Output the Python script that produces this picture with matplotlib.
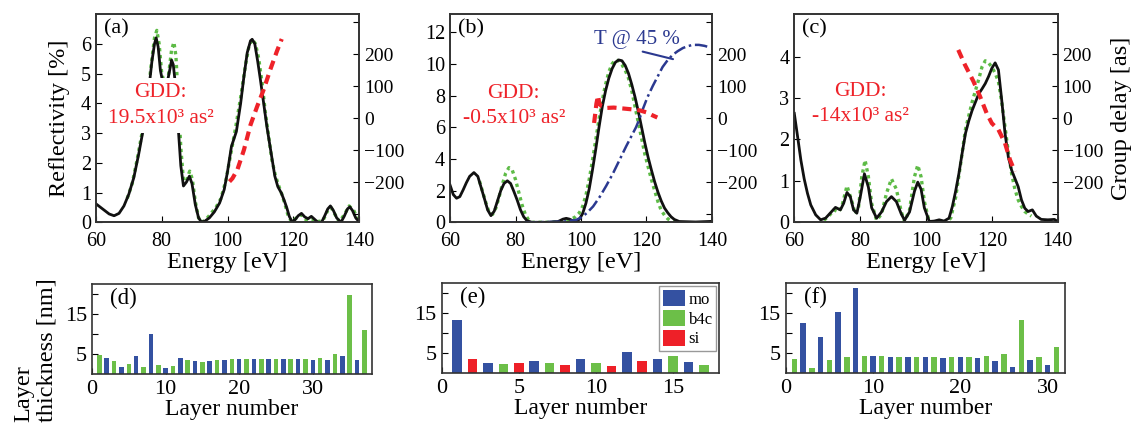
import matplotlib
matplotlib.use("Agg")
import matplotlib.pyplot as plt
from matplotlib.patches import Patch

plt.rcParams['font.family'] = ['Liberation Serif', 'DejaVu Serif']

# colours
BLACK = '#111111'
GREEN = '#5dbb46'
RED = '#ee2229'
NAVY = '#2b3990'
MO = '#3451a1'
B4C = '#6cbf48'
SI = '#ee2028'

# ---------------- data: panel (a) ----------------
e_a_calc = [60, 62, 64, 65.5, 67, 68.5, 70, 71.5, 73, 74.5, 76, 77, 77.8, 78.3, 78.9, 79.6, 80.5,
            81.5, 82.4, 83.0, 83.5, 84.2, 85.0, 85.8, 86.6, 87.5, 88.4, 89.2, 90.2, 91.2, 92.0,
            93.0, 94.5, 96.0, 97.6, 99.0, 100.0, 101.2, 102.7, 104.0, 105.0, 106.0, 107.0, 107.5,
            108.3, 109.2, 110.0, 111.0, 112.0, 112.8, 113.6, 114.4, 115.3, 116.4, 117.2, 118.0,
            118.8, 119.6, 120.5, 121.5, 122.5, 123.5, 124.5, 125.5, 126.5, 127.5, 128.6, 129.5,
            130.5, 131.3, 132.2, 133.2, 134.5, 135.5, 136.5, 137.2, 138.0, 139.0, 140.0]
r_a_calc = [0.62, 0.45, 0.28, 0.22, 0.30, 0.55, 0.95, 1.5, 2.3, 3.2, 4.4, 5.4, 6.0, 6.2, 5.9, 5.1, 4.6,
            4.6, 5.1, 5.45, 5.3, 4.6, 3.2, 1.9, 1.22, 1.35, 1.55, 1.3, 0.6, 0.15, 0.02,
            0.03, 0.15, 0.35, 0.65, 1.1, 1.7, 2.55, 3.05, 4.0, 4.9, 5.7, 6.1, 6.15,
            6.0, 5.4, 4.8, 4.0, 3.2, 2.65, 2.1, 1.55, 1.2, 0.98, 0.75, 0.5,
            0.2, 0.02, 0.08, 0.22, 0.3, 0.18, 0.12, 0.2, 0.1, 0.0, 0.0, 0.2,
            0.45, 0.55, 0.4, 0.15, 0.0, 0.2, 0.45, 0.52, 0.4, 0.15, 0.02]
e_a_target = [69.5, 71, 72.5, 74, 75.5, 76.8, 77.8, 78.5, 79.2, 80.0, 81.0, 82.0, 83.0, 83.7, 84.3,
              85.0, 85.8, 86.6, 87.5, 88.5, 89.3, 90.2, 91.2, 92.2, 93.5, 95, 96.5, 98, 99.5, 101,
              102.5, 104, 105.5, 106.5, 107.5, 108.5, 109.5, 110.5, 111.5, 112.5, 113.5, 114.5,
              115.5, 116.5, 117.5, 118.5, 119.5, 121, 122.5, 124, 125.5, 127, 129, 130.5, 131.5,
              132.5, 134, 135.5, 137, 138.5, 139.5]
r_a_target = [0.8, 1.3, 2.1, 3.0, 4.0, 5.3, 6.2, 6.45, 6.0, 5.0, 4.6, 4.9, 5.8, 6.05, 5.6,
              4.2, 2.5, 1.4, 1.4, 1.72, 1.45, 0.7, 0.15, 0.0, 0.1, 0.3, 0.5, 0.8, 1.4, 2.3,
              3.2, 4.2, 5.3, 5.9, 6.15, 6.0, 5.5, 4.7, 3.7, 2.9, 2.1, 1.6,
              1.25, 0.95, 0.6, 0.2, 0.02, 0.15, 0.25, 0.07, 0.12, 0.02, 0.05, 0.4, 0.5,
              0.3, 0.02, 0.25, 0.55, 0.38, 0.1]
e_a_gd = [100.6, 101.5, 103, 105, 107, 109, 111, 113, 115, 116.5]
gd_a = [-198, -188, -161, -99, -21, 36, 89, 151, 208, 247]

# ---------------- data: panel (b) ----------------
e_b_calc = [60, 61, 62, 63, 64, 65, 66, 67.3, 68.5, 69.5, 70.5, 71.5, 72.5, 73.5, 74.5, 75.5, 76.5,
            77.5, 78.5, 79.5, 80.5, 81.5, 82.5, 83.5, 85, 90, 93, 94.5, 95.5, 96.5, 97.5, 98.5,
            99.5, 100.5, 101.5, 102.5, 103.5, 104.5, 105.5, 106.5, 107.5, 108.5, 109.5, 110.5,
            111.5, 112.5, 113.5, 114.5, 115.5, 116.5, 117.5, 118.5, 119.5, 120.5, 121.5, 122.5,
            123.5, 124.5, 125.5, 126.5, 127.5, 128.5, 130, 135, 140]
r_b_calc = [2.36, 1.75, 1.52, 1.62, 2.04, 2.5, 2.9, 3.14, 2.9, 2.2, 1.5, 0.78, 0.42, 0.7, 1.35, 2.0, 2.45,
            2.62, 2.45, 1.95, 1.41, 0.8, 0.35, 0.1, 0.0, 0.0, 0.05, 0.2, 0.25, 0.2, 0.1, 0.02,
            0.2, 0.55, 1.2, 2.1, 3.3, 4.6, 6.0, 7.3, 8.3, 9.1, 9.7, 10.1,
            10.25, 10.2, 9.9, 9.4, 8.7, 7.9, 7.0, 6.0, 5.0, 4.1, 3.3, 2.55,
            1.9, 1.35, 0.9, 0.6, 0.35, 0.18, 0.05, 0.02, 0.06]
e_b_target = [69, 70, 71, 72, 73, 74, 75, 76, 77, 78, 79, 80, 81, 82, 83, 84, 85, 90, 95, 98, 99.5,
              100.5, 101.5, 102.5, 103.5, 104.5, 105.5, 106.5, 107.5, 108.5, 109.5, 110.5, 111.5,
              112.5, 113.5, 114.5, 115.5, 116.5, 117.5, 118.5, 119.5, 120.5, 121.5, 122.5, 123.5,
              124.5, 125.5, 126.5, 127.5, 128.5]
r_b_target = [2.6, 1.9, 1.2, 0.6, 0.5, 0.9, 1.6, 2.4, 3.1, 3.45, 3.3, 2.7, 1.9, 1.1, 0.5, 0.15, 0.0, 0.0,
              0.05, 0.3, 0.6, 1.0, 1.7, 2.7, 3.9, 5.2, 6.5, 7.7, 8.7, 9.5, 10.0, 10.25, 10.2,
              9.95, 9.6, 9.1, 8.3, 7.3, 6.3, 5.3, 4.3, 3.5, 2.7, 2.0, 1.3,
              0.75, 0.45, 0.22, 0.08, 0.0]
e_b_trans = [76, 80, 85, 90, 95, 98.5, 100, 101.7, 103.7, 105.7, 107.7, 109.8, 111.8, 113.8, 115.3,
             116.8, 117.8, 118.8, 120.3, 121.9, 123.4, 124.9, 126.5, 128, 129.5, 131.1, 132.6,
             134.1, 136, 137.7, 139.2]
t_b = [0.0, 0.0, 0.0, 0.02, 0.05, 0.15, 0.3, 0.57, 1.0, 1.6, 2.3, 3.1, 3.95, 4.8, 5.4,
       6.0, 6.5, 7.1, 7.9, 8.6, 9.2, 9.8, 10.25, 10.57, 10.8, 11.0, 11.12,
       11.2, 11.2, 11.14, 11.05]
e_b_gd = [104.0, 104.3, 104.7, 105.2, 105.6, 106.2, 108, 110, 112, 114, 116, 118, 120, 122, 123.3]
gd_b = [-15, 10, 45, 70, 45, 38, 32, 33, 31, 29, 27, 24, 18, 8, 2]

# ---------------- data: panel (c) ----------------
e_c_calc = [60, 61, 62, 63, 64, 65, 66.5, 68, 69.5, 71, 72.5, 74, 75, 76, 77, 78, 79, 80, 81.3, 82.5,
            83.5, 85, 86.5, 88, 89.5, 91, 92.5, 93.5, 95, 96.5, 97.5, 98.5, 99.5, 101, 102.5, 104,
            105.5, 107, 108, 109, 110, 111, 112, 113, 114, 115, 116, 117, 118, 119, 120, 121, 122,
            123, 124, 125, 126, 127, 128, 129, 130, 131, 132.3, 133.5, 135, 137, 139, 140]
r_c_calc = [2.63, 2.07, 1.5, 1.05, 0.7, 0.42, 0.18, 0.06, 0.1, 0.23, 0.36, 0.3, 0.46, 0.72, 0.62, 0.3,
            0.22, 0.6, 1.17, 0.85, 0.35, 0.1, 0.25, 0.5, 0.62, 0.5, 0.2, 0.05, 0.25, 0.75, 0.97, 0.8,
            0.35, 0.02, 0.03, 0.06, 0.03, 0.1, 0.38, 0.75, 1.18, 1.68, 2.15, 2.45, 2.7, 2.9, 3.1,
            3.22, 3.35, 3.52, 3.72, 3.85, 3.68, 2.95, 2.15, 1.58, 1.26, 1.06, 0.86, 0.54, 0.34,
            0.26, 0.3, 0.15, 0.07, 0.06, 0.07, 0.02]
e_c_target = [69, 70.5, 72, 73.5, 74.5, 76, 77.5, 78.5, 79.5, 80.5, 81.5, 82.5, 83.5, 85, 86.5, 88,
              89.5, 91, 92.5, 93.5, 95, 96.5, 97.5, 98.5, 99.5, 101, 103, 106, 107.5, 109, 110.5,
              112, 114, 116, 117, 118, 119, 120, 121, 122, 123, 124, 125, 126, 127, 128, 129, 130,
              131, 132]
r_c_target = [0.05, 0.15, 0.3, 0.25, 0.4, 0.88, 0.5, 0.2, 0.35, 1.1, 1.5, 1.1, 0.45, 0.05, 0.2, 0.7,
              1.05, 0.8, 0.25, 0.02, 0.3, 1.1, 1.38, 1.1, 0.5, 0.0, 0.0, 0.0, 0.1, 0.6, 1.4,
              2.25, 2.9, 3.45, 3.75, 3.9, 3.85, 3.75, 3.6, 3.4, 2.9, 2.3, 1.7, 1.18, 0.8, 0.54, 0.38,
              0.26, 0.2, 0.15]
e_c_gd = [109.8, 111.8, 114.4, 116.4, 118.4, 120, 122, 124, 125.5, 127]
gd_c = [213, 167, 115, 68, 16, -16, -36, -78, -130, -167]

# ---------------- data: layer thicknesses ----------------
thick_d = [4.8, 4.1, 3.2, 1.8, 2.4, 4.6, 1.8, 10.0, 2.3, 1.5, 2.0, 4.0, 3.4, 3.3, 3.0, 3.3, 3.5,
           3.6, 3.7, 3.7, 3.7, 3.7, 3.7, 3.7, 3.7, 3.7, 3.7, 3.7, 3.8, 3.6, 4.0, 3.6, 4.9, 4.4,
           19.8, 3.4, 10.9]
mat_d = ['b4c', 'mo'] * 18 + ['b4c']
thick_e = [13.3, 3.6, 2.6, 2.3, 2.5, 3.0, 2.6, 1.9, 3.4, 2.5, 1.8, 5.2, 2.9, 3.5, 4.3, 2.7, 1.9]
mat_e = ['mo', 'si', 'mo', 'b4c', 'si', 'mo', 'b4c', 'si', 'mo', 'b4c', 'si', 'mo', 'si', 'mo',
         'b4c', 'mo', 'b4c']
thick_f = [3.6, 12.5, 1.3, 8.9, 3.2, 15.2, 3.9, 21.2, 4.2, 4.3, 4.3, 4.1, 4.0, 3.9, 3.9, 3.9, 3.9,
           3.8, 4.0, 3.9, 4.1, 3.7, 4.3, 2.9, 4.8, 1.6, 13.2, 3.2, 3.9, 1.9, 6.6]
mat_f = ['b4c', 'mo'] * 15 + ['b4c']
mat_colors = {'mo': MO, 'b4c': B4C, 'si': SI}

W, H = 1142, 428
fig = plt.figure(figsize=(W / 100, H / 100), dpi=100)


def rect(x0, y0, x1, y1):
    return [x0 / W, 1 - y1 / H, (x1 - x0) / W, (y1 - y0) / H]


def top_panel(r, calc, target, gd, ylim, yticks, tag, gdd_text, gdd_xy):
    ax = fig.add_axes(r)
    ax.plot(target[0], target[1], color=GREEN, lw=2.4, ls=(0, (1, 1.1)), zorder=2)
    ax.plot(calc[0], calc[1], color=BLACK, lw=2.0, zorder=3)
    ax.set_xlim(60, 140)
    ax.set_ylim(*ylim)
    ax.set_xticks([60, 80, 100, 120, 140])
    ax.set_yticks(yticks)
    ax.tick_params(direction='in', length=4, labelsize=14.5, right=False, top=False)
    ax.tick_params(axis='x', pad=7)
    ax.set_xlabel('Energy [eV]', fontsize=17.5, labelpad=1)
    ax.text(0.03, 0.975, tag, transform=ax.transAxes, fontsize=16, ha='left', va='top')
    ax.text(gdd_xy[0], gdd_xy[1], gdd_text, color=RED, fontsize=15.5, ha='center', va='center',
            linespacing=1.45, zorder=5,
            bbox=dict(facecolor='white', edgecolor='none', pad=4))
    ax2 = ax.twinx()
    ax2.plot(gd[0], gd[1], color=RED, lw=3, ls=(0, (2.2, 1.4)), zorder=4)
    ax2.set_ylim(-325, 325)
    ax2.set_yticks([-300, -200, -100, 0, 100, 200, 300],
                   labels=['', '\u2212200', '\u2212100', '0', '100', '200', ''])
    ax2.tick_params(direction='in', length=4, labelsize=14)
    for a in (ax, ax2):
        for s in a.spines.values():
            s.set_color('#333333')
            s.set_linewidth(1.2)
    return ax, ax2


ax_a, ax_a2 = top_panel(rect(96, 14, 359, 222.3), (e_a_calc, r_a_calc), (e_a_target, r_a_target),
                        (e_a_gd, gd_a), (0, 7), range(0, 7), '(a)',
                        'GDD:\n19.5x10\u00b3 as\u00b2', (79.7, 3.93))
ax_a.set_ylabel('Reflectivity [%]', fontsize=17.5, labelpad=8)

ax_b, ax_b2 = top_panel(rect(450, 14, 712, 222.3), (e_b_calc, r_b_calc), (e_b_target, r_b_target),
                        (e_b_gd, gd_b), (0, 13.15), range(0, 13, 2), '(b)',
                        'GDD:\n-0.5x10\u00b3 as\u00b2', (79.5, 7.35))
ax_b.plot(e_b_trans, t_b, color=NAVY, lw=1.8, ls=(0, (5, 1.5, 1, 1.5)), zorder=3)
ax_b.annotate('T @ 45 %', xy=(128.1, 10.3), xytext=(117, 11.55), color=NAVY, fontsize=15,
              ha='center', va='center',
              arrowprops=dict(arrowstyle='-', color=NAVY, lw=1.5, shrinkA=0, shrinkB=0,
                              relpos=(0.35, 0.1)))

ax_c, ax_c2 = top_panel(rect(794.3, 14, 1057.7, 222.3), (e_c_calc, r_c_calc), (e_c_target, r_c_target),
                        (e_c_gd, gd_c), (0, 5.03), range(0, 5), '(c)',
                        'GDD:\n-14x10\u00b3 as\u00b2', (80.2, 2.85))
ax_c2.set_ylabel('Group delay [as]', fontsize=17.5, labelpad=6)


def bottom_panel(r, thick, mats, xlim, xticks, tag):
    ax = fig.add_axes(r)
    layers = range(1, len(thick) + 1)
    ax.bar(layers, thick, width=0.62, color=[mat_colors[m] for m in mats], zorder=2)
    ax.set_xlim(*xlim)
    ax.set_ylim(0, 22.5)
    ax.set_xticks(xticks)
    ax.set_yticks([5, 10, 15, 20], labels=['5', '', '15', ''])
    ax.tick_params(direction='in', length=4, labelsize=16, top=False, right=False)
    ax.tick_params(axis='x', pad=4)
    ax.set_xlabel('Layer number', fontsize=17, labelpad=0)
    ax.text(0.065, 0.96, tag, transform=ax.transAxes, fontsize=16.5, ha='left', va='top')
    for s in ax.spines.values():
        s.set_color('#333333')
        s.set_linewidth(1.2)
    return ax


bottom_panel(rect(92, 284, 371.7, 374), thick_d, mat_d, (0, 38), [0, 10, 20, 30], '(d)')
ax_e = bottom_panel(rect(441.7, 283, 719.3, 373), thick_e, mat_e, (0, 18), [0, 5, 10, 15], '(e)')
bottom_panel(rect(785.7, 283, 1065, 373), thick_f, mat_f, (0, 32), [0, 10, 20, 30], '(f)')

handles = [Patch(facecolor=mat_colors[m], label=m) for m in ('mo', 'b4c', 'si')]
ax_e.legend(handles=handles, loc='upper right', fontsize=12, handlelength=1.35, handleheight=1.15,
            handletextpad=0.2, labelspacing=0.12, borderpad=0.2, borderaxespad=0.2,
            fancybox=False, edgecolor='#999999', framealpha=1)

fig.text(0.031, 1 - 350 / H, 'Layer\nthickness [nm]', rotation=90, fontsize=17.5,
         ha='center', va='center', multialignment='left', linespacing=1.15)

fig.savefig('out.png', dpi=100)
